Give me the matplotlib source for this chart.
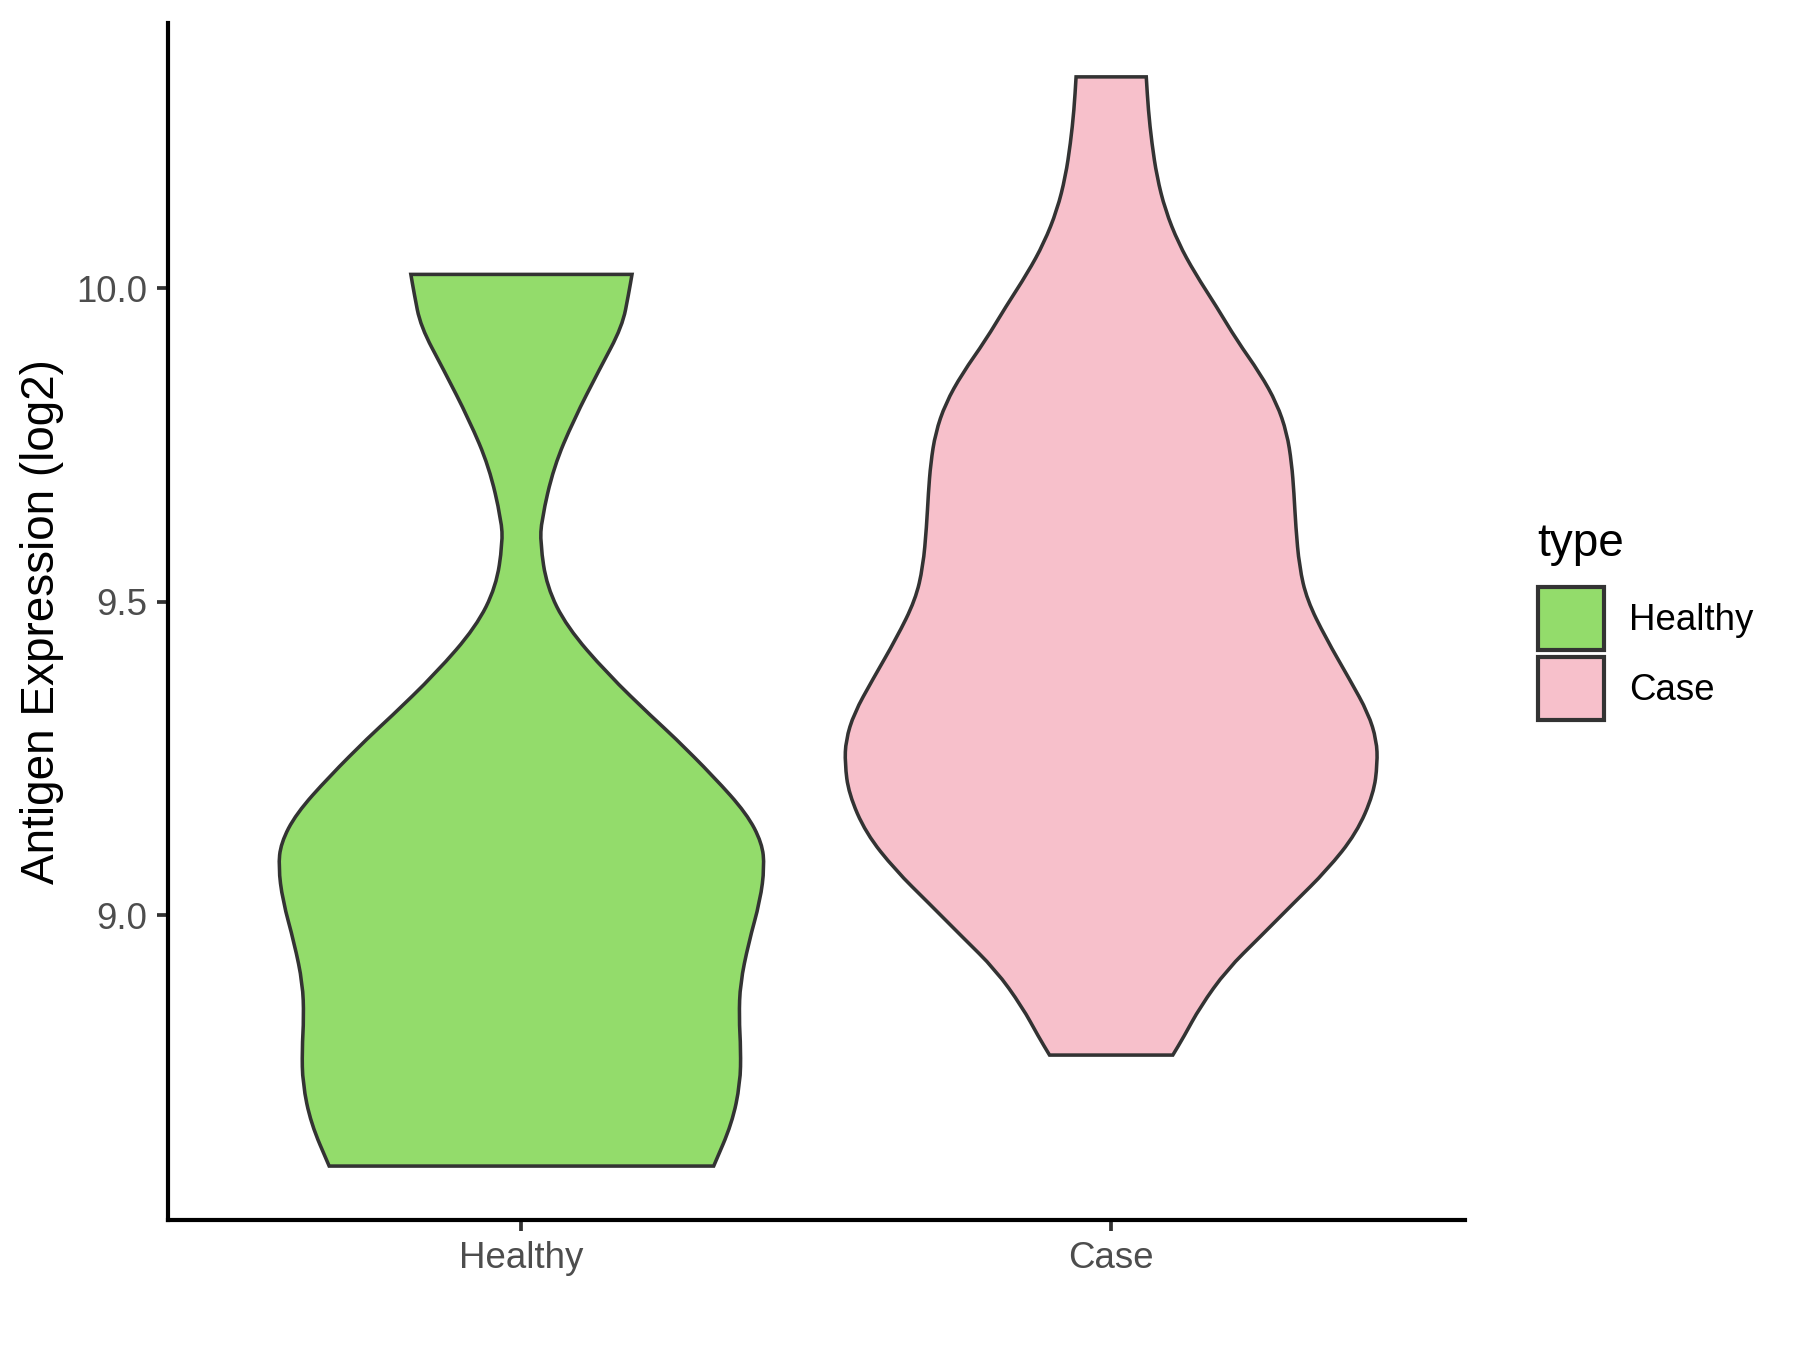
import matplotlib
matplotlib.use('Agg')
import matplotlib.pyplot as plt
from matplotlib.patches import Patch, PathPatch
from matplotlib.path import Path

plt.rcParams['font.family'] = ['Liberation Sans', 'DejaVu Sans']

groups = ['Healthy', 'Case']
colors = ['#93DC6B', '#F7C0CB']

# violin outline: expression level and half width (x units)
healthy_y = [10.022, 9.992, 9.939, 9.870, 9.790, 9.715, 9.630, 9.593, 9.524,
             9.460, 9.386, 9.314, 9.285, 9.221, 9.162, 9.115, 9.077, 9.024,
             8.955, 8.891, 8.838, 8.785, 8.732, 8.668, 8.600]
healthy_hw = [0.1875, 0.182, 0.171, 0.132, 0.0887, 0.0548, 0.034, 0.032, 0.043,
              0.077, 0.145, 0.224, 0.258, 0.326, 0.382, 0.408, 0.412, 0.405,
              0.385, 0.371, 0.369, 0.372, 0.371, 0.357, 0.326]

case_y = [10.337, 10.284, 10.231, 10.178, 10.125, 10.072, 10.024, 9.970, 9.917,
          9.864, 9.816, 9.769, 9.721, 9.673, 9.620, 9.556, 9.503, 9.442, 9.375,
          9.322, 9.279, 9.242, 9.194, 9.131, 9.072, 9.019, 8.966, 8.913, 8.854,
          8.806, 8.777]
case_hw = [0.0595, 0.063, 0.069, 0.0775, 0.0916, 0.114, 0.142, 0.179, 0.213,
           0.2525, 0.281, 0.298, 0.306, 0.310, 0.313, 0.319, 0.332, 0.364, 0.405,
           0.436, 0.450, 0.4515, 0.445, 0.416, 0.366, 0.309, 0.253, 0.196, 0.151,
           0.123, 0.1045]

y_ticks = [9.0, 9.5, 10.0]
y_tick_labels = ['9.0', '9.5', '10.0']


def smooth_run(pts):
    # quadratic bezier pieces through the midpoints, so the outline has no corners
    verts = [((pts[0][0] + pts[1][0]) / 2, (pts[0][1] + pts[1][1]) / 2)]
    codes = [Path.LINETO]
    for i in range(1, len(pts) - 1):
        mid = ((pts[i][0] + pts[i + 1][0]) / 2, (pts[i][1] + pts[i + 1][1]) / 2)
        verts += [pts[i], mid]
        codes += [Path.CURVE3, Path.CURVE3]
    verts.append(pts[-1])
    codes.append(Path.LINETO)
    return verts, codes


def violin_path(pos, ys, hws):
    left = [(pos - w, y) for y, w in zip(ys, hws)]
    right = [(pos + w, y) for y, w in zip(ys, hws)][::-1]
    verts = [left[0]]
    codes = [Path.MOVETO]
    v, c = smooth_run(left)
    verts += v
    codes += c
    verts.append(right[0])
    codes.append(Path.LINETO)
    v, c = smooth_run(right)
    verts += v
    codes += c
    verts.append(left[0])
    codes.append(Path.CLOSEPOLY)
    return Path(verts, codes)


fig = plt.figure(figsize=(6, 4.5), dpi=300)
ax = fig.add_axes([0.0931, 0.0963, 0.7208, 0.8867])

outlines = [(healthy_y, healthy_hw), (case_y, case_hw)]
for i, (ys, hws) in enumerate(outlines):
    patch = PathPatch(violin_path(i + 1, ys, hws), facecolor=colors[i],
                      edgecolor='#333333', linewidth=0.85, joinstyle='miter', zorder=2)
    ax.add_patch(patch)

ax.set_xlim(0.4, 2.6)
ax.set_ylim(8.514, 10.423)
ax.set_xticks([1, 2])
ax.set_xticklabels(groups)
ax.set_yticks(y_ticks)
ax.set_yticklabels(y_tick_labels)
ax.tick_params(axis='both', length=2.75, width=0.9, color='#333333',
               labelcolor='#4D4D4D', labelsize=8.8, pad=2.2)

for side in ['top', 'right']:
    ax.spines[side].set_visible(False)
for side in ['left', 'bottom']:
    ax.spines[side].set_color('black')
    ax.spines[side].set_linewidth(1.0)

ax.set_ylabel('Antigen Expression (log2)', fontsize=11, color='black', labelpad=2.8)

handles = [Patch(facecolor=colors[i], edgecolor='#333333', linewidth=1.0) for i in range(2)]
leg = fig.legend(handles, groups, title='type', loc='upper left',
                 bbox_to_anchor=(0.844, 0.627), frameon=False, fontsize=8.8,
                 title_fontsize=11, handlelength=1.8, handleheight=2.27,
                 labelspacing=0.2, handletextpad=0.7, borderpad=0,
                 alignment='left')
leg._legend_box.sep = 5.0

fig.savefig('out.png', dpi=300)
